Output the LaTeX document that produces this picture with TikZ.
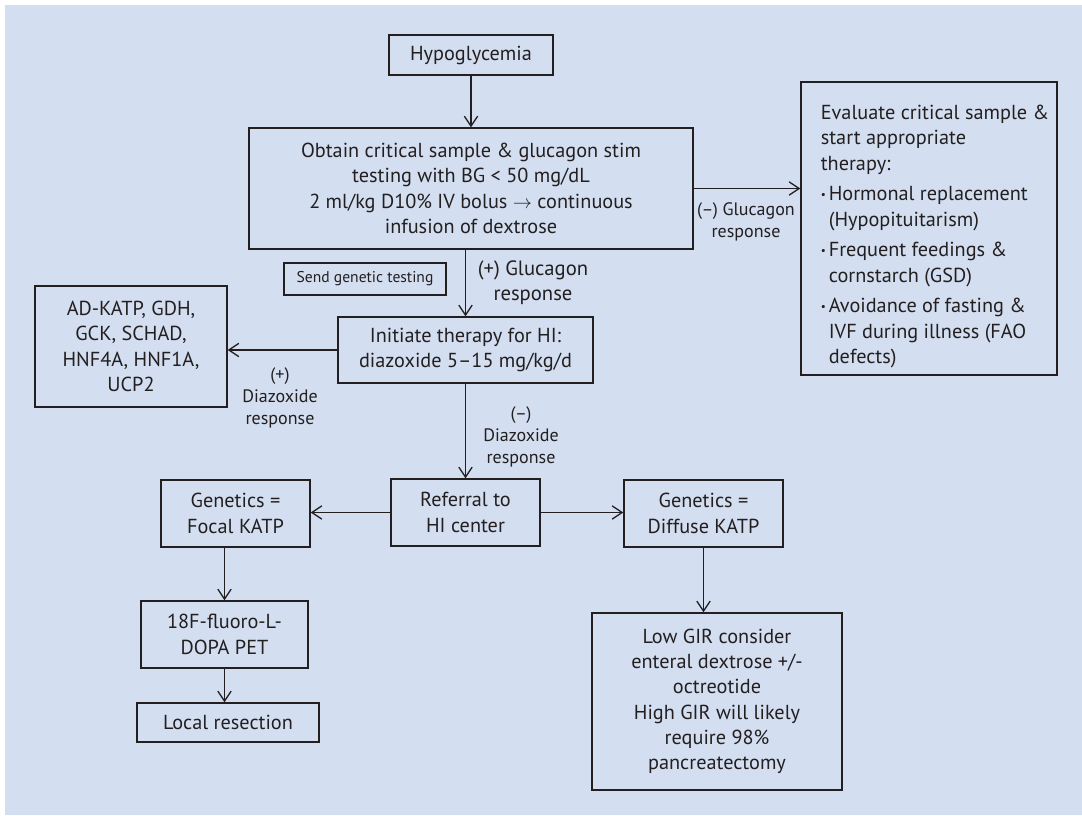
\documentclass[tikz,border=0pt]{standalone}
\usepackage{fontspec}
\setmainfont{PT Sans}
\usetikzlibrary{arrows.meta}

\definecolor{panelblue}{RGB}{211,222,240}
\definecolor{inkgray}{RGB}{35,31,32}

\tikzset{every picture/.style={line width=0.75pt}}
\tikzset{
  flowbox/.style={draw=inkgray, line width=1pt, inner sep=2pt, align=center, text=inkgray, font=\fontsize{15.2}{19}\selectfont},
  flowtext/.style={inner sep=0pt, align=left, text=inkgray, font=\fontsize{15.2}{19}\selectfont},
  flowlabel/.style={inner sep=0.75pt, align=center, text=inkgray, font=\fontsize{13.5}{16.5}\selectfont},
  flowarrow/.style={draw=inkgray, line width=1pt, -{Straight Barb[length=7.5pt,width=10pt,line width=1pt]}}
}
\newcommand{\itembul}{\makebox[6pt][l]{\raisebox{0.25ex}{\scalebox{0.55}{\textbullet}}}}

\begin{document}
\begin{tikzpicture}[x=0.75pt,y=0.75pt,yscale=-1,xscale=1]
\useasboundingbox (0,0) rectangle (1082,815);
%Panel
\fill [panelblue] (5,5) rectangle (1082,815);

% Boxes
\node [flowbox, minimum width=123pt, minimum height=30pt] (hypo) at (471,55) {Hypoglycemia};
\node [flowbox, minimum width=333pt, minimum height=90.75pt] (obtain) at (471,188.5) {Obtain critical sample \& glucagon stim\\ testing with BG < 50 mg/dL\\ 2 ml/kg D10\% IV bolus $\rightarrow$ continuous\\ infusion of dextrose};
\node [flowbox, minimum width=192pt, minimum height=219.75pt] (evaluate) at (929,228.5) {};
\node [flowtext, anchor=west] (evaltext) at ([xshift=15pt]evaluate.west) {\rule{0pt}{23pt}Evaluate critical sample \&\\ start appropriate\\ therapy:\\[4pt]
  \itembul Hormonal replacement\\ \hspace*{6pt}(Hypopituitarism)\\[4pt]
  \itembul Frequent feedings \&\\ \hspace*{6pt}cornstarch (GSD)\\[4pt]
  \itembul Avoidance of fasting \&\\ \hspace*{6pt}IVF during illness (FAO\\ \hspace*{6pt}defects)};
\node [flowbox, font=\fontsize{11.7}{14}\selectfont, minimum width=121.5pt, minimum height=24pt] (sendgen) at (365,279) {Send genetic testing};
\node [flowbox, minimum width=191.25pt, minimum height=49.5pt] (initiate) at (465.5,350) {Initiate therapy for HI:\\ diazoxide 5--15 mg/kg/d};
\node [flowbox, minimum width=144pt, minimum height=90.75pt] (genes) at (131,346.5) {AD-KATP, GDH,\\ GCK, SCHAD,\\ HNF4A, HNF1A,\\ UCP2};
\node [flowbox, minimum width=111.75pt, minimum height=50.25pt] (referral) at (465.5,512.5) {Referral to\\ HI center};
\node [flowbox, minimum width=111.75pt, minimum height=50.25pt] (focal) at (235.5,513.5) {Genetics =\\ Focal KATP};
\node [flowbox, minimum width=119.25pt, minimum height=50.25pt] (diffuse) at (703.5,513.5) {Genetics =\\ Diffuse KATP};
\node [flowbox, minimum width=125.25pt, minimum height=50.25pt] (pet) at (224.5,634.5) {18F-fluoro-L-\\ DOPA PET};
\node [flowbox, minimum width=136.5pt, minimum height=29.25pt] (resect) at (228,722.5) {Local resection};
\node [flowbox, minimum width=187.5pt, minimum height=132.75pt] (lowgir) at (717,701.5) {Low GIR consider\\ enteral dextrose +/-\\ octreotide\\ High GIR will likely\\ require 98\%\\ pancreatectomy};

% Text Nodes
\node [flowlabel, font=\fontsize{15.5}{19}\selectfont] (glucplus) at (533,283) {(+) Glucagon\\ response};
\node [flowlabel] (glucminus) at (746,222) {(--) Glucagon\\ response};
\node [flowlabel] (diazplus) at (280,398) {(+)\\ Diazoxide\\ response};
\node [flowlabel] (diazminus) at (521,437) {(--)\\ Diazoxide\\ response};

%Straight Lines
\draw [flowarrow] (hypo) -- (obtain);
\draw [flowarrow] (obtain.east) -- (obtain.east -| evaluate.west);
\draw [flowarrow] (obtain.south -| initiate.north) -- (initiate.north);
\draw [flowarrow] (initiate.west) -- (initiate.west -| genes.east);
\draw [flowarrow] (initiate) -- (referral);
\draw [flowarrow] (referral.west) -- (referral.west -| focal.east);
\draw [flowarrow] (referral.east) -- (referral.east -| diffuse.west);
\draw [flowarrow] (pet.north |- focal.south) -- (pet.north);
\draw [flowarrow] (pet.south) -- (pet.south |- resect.north);
\draw [flowarrow] (diffuse.south) -- (diffuse.south |- lowgir.north);

\end{tikzpicture}
\end{document}
